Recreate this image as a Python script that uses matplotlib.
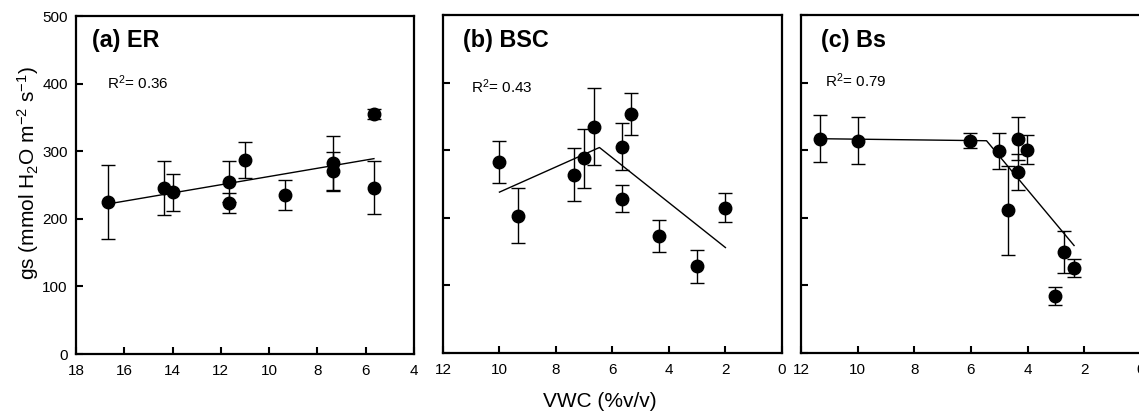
import numpy as np
import matplotlib
matplotlib.use("Agg")
import matplotlib.pyplot as plt

plt.rcParams['font.family'] = ['Liberation Sans', 'DejaVu Sans']
plt.rcParams['mathtext.fontset'] = 'custom'
plt.rcParams['mathtext.rm'] = 'Liberation Sans'
plt.rcParams['mathtext.it'] = 'Liberation Sans:italic'
plt.rcParams['mathtext.bf'] = 'Liberation Sans:bold'

# (a) ER
er_x = [16.67, 14.34, 14.0, 11.67, 11.67, 11.0, 9.34, 7.34, 7.34, 5.66, 5.66]
er_y = [225, 246, 239, 255, 223, 287, 235, 282, 270, 355, 246]
er_err = [55, 40, 28, 30, 15, 26, 22, 40, 29, 7, 39]
er_fit_x = [16.67, 5.66]
er_fit_y = [222, 289]

# (b) BSC
bsc_x = [10.0, 9.34, 7.35, 7.0, 6.66, 5.67, 5.67, 5.33, 4.36, 3.02, 2.0]
bsc_y = [282, 203, 264, 288, 335, 305, 228, 353, 173, 128, 215]
bsc_err = [31, 41, 39, 44, 57, 35, 20, 31, 24, 25, 21]
bsc_fit_x = [10.0, 6.46, 2.0]
bsc_fit_y = [238, 304, 156]

# (c) Bs
bs_x = [11.32, 10.0, 6.02, 5.02, 4.68, 4.35, 4.35, 4.02, 2.71, 3.02, 2.36]
bs_y = [317, 314, 314, 299, 211, 317, 268, 301, 149, 84, 126]
bs_err = [35, 35, 11, 27, 66, 32, 27, 22, 31, 13, 13]
bs_fit_x = [11.32, 5.45, 2.36]
bs_fit_y = [317, 314, 159]

panels = [
    ("(a) ER", "R$^2$= 0.36", er_x, er_y, er_err, er_fit_x, er_fit_y,
     (18, 4), np.arange(18, 3, -2), [0.0667, 0.1531, 0.2968, 0.8086], (0.047, 0.929), (0.092, 0.803)),
    ("(b) BSC", "R$^2$= 0.43", bsc_x, bsc_y, bsc_err, bsc_fit_x, bsc_fit_y,
     (12, 0), np.arange(12, -1, -2), [0.3889, 0.1555, 0.2976, 0.8086], (0.06, 0.924), (0.083, 0.787)),
    ("(c) Bs", "R$^2$= 0.79", bs_x, bs_y, bs_err, bs_fit_x, bs_fit_y,
     (12, 0), np.arange(12, -1, -2), [0.7032, 0.1555, 0.2985, 0.8086], (0.058, 0.924), (0.07, 0.806)),
]

fig = plt.figure(figsize=(11.39, 4.18), dpi=100)

for i, (title, r2, x, y, err, fx, fy, xlim, xticks, rect, tpos, rpos) in enumerate(panels):
    ax = fig.add_axes(rect)
    ax.plot(fx, fy, color='black', lw=1.0, zorder=2)
    ax.errorbar(x, y, yerr=err, fmt='o', color='black', ms=9, elinewidth=1.0,
                capsize=5, capthick=1.0, zorder=3)
    ax.set_xlim(*xlim)
    ax.set_ylim(0, 500)
    ax.set_xticks(xticks)
    ax.set_yticks(np.arange(0, 501, 100))
    ax.tick_params(direction='in', length=5, width=1.5, labelsize=11, pad=6)
    ax.tick_params(axis='x', pad=7.5)
    if i > 0:
        ax.tick_params(axis='y', labelleft=False)
    for s in ax.spines.values():
        s.set_linewidth(1.6)
    ax.text(tpos[0], tpos[1], title, transform=ax.transAxes, fontsize=16.8,
            fontweight='bold', va='center', ha='left')
    ax.text(rpos[0], rpos[1], r2, transform=ax.transAxes, fontsize=11,
            va='center', ha='left')

fig.text(0.527, 0.039, "VWC (%v/v)", ha='center', va='center', fontsize=15)
fig.text(0.0246, 0.586, r"gs (mmol H$_2$O m$^{-2}$ s$^{-1}$)", ha='center',
         va='center', rotation=90, fontsize=15)

fig.savefig("out.png", dpi=100)
